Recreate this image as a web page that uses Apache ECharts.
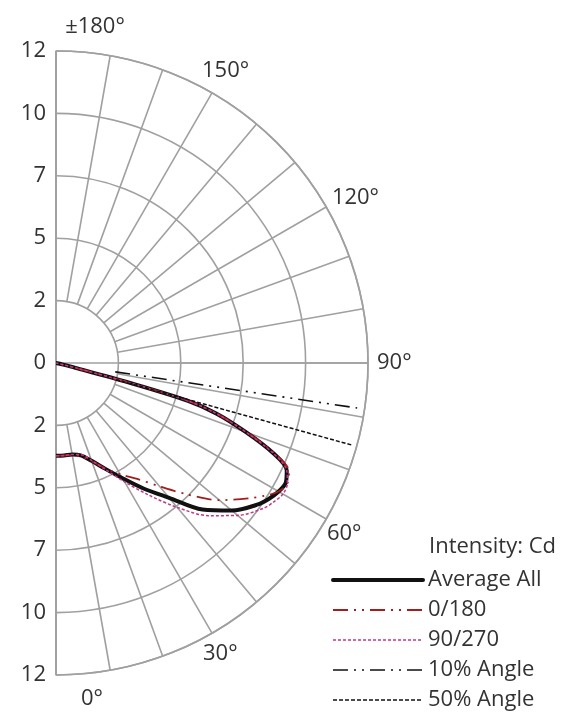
<!DOCTYPE html>
<html><head><meta charset="utf-8">
<script src="https://cdn.jsdelivr.net/npm/echarts@6/dist/echarts.min.js"></script>
<style>html,body{margin:0;padding:0;background:#fff}#c{width:563px;height:712px}</style>
</head><body><div id="c"></div>
<script>
// ---- data ----
const angleGrid   = [0, 5, 10, 15, 20, 25, 30, 35, 40, 45, 50, 55, 57.5, 60, 62.5, 65, 67.5, 70, 72.5, 74, 75, 76, 78, 80, 90];
const averageAll  = [3.72, 3.72, 3.72, 3.83, 4.17, 4.68, 5.33, 6.15, 7.05, 8.3, 9.2, 9.88, 10.12, 10.3, 10.38, 10.2, 9.4, 8.1, 6.75, 5.5, 3.0, 0.8, 0.15, 0.05, 0];
const plane0180   = [3.72, 3.72, 3.75, 3.88, 4.2, 4.65, 5.15, 5.67, 6.45, 7.45, 8.55, 9.45, 9.9, 10.3, 10.45, 10.3, 9.5, 8.15, 6.75, 5.5, 3.0, 0.8, 0.15, 0.05, 0];
const plane90270  = [3.72, 3.72, 3.72, 3.8, 4.15, 4.72, 5.5, 6.45, 7.55, 8.65, 9.5, 10.15, 10.35, 10.5, 10.45, 10.2, 9.4, 8.1, 6.75, 5.5, 3.0, 0.8, 0.15, 0.05, 0];
const angle10Pct  = [81.5, 81.5];
const radius10Pct = [2.4, 12.2];
const angle50Pct  = [74.5, 74.5];
const radius50Pct = [2.5, 12.3];
const angleTickValues  = [0, 30, 60, 90, 120, 150, 180];
const angleTickLabels  = ['0°', '30°', '60°', '90°', '120°', '150°', '±180°'];
const radialTickValues = [0, 2.5, 5, 7.5, 10, 12.5];
const radialTickLabels = ['0', '2', '5', '7', '10', '12'];
const seriesNames = ['Average All', '0/180', '90/270', '10% Angle', '50% Angle'];
const legendTitle = 'Intensity: Cd';

// ---- build ----
const pairs = (vals, angs) => vals.map((v, i) => [v, angs[i]]);
const FONT = '"Open Sans", sans-serif';
const GRID = '#a0a0a0';
const TXT = '#333';
const C = [56, 363];
const R = 312;

const radialFmt = v => {
  const i = radialTickValues.findIndex(t => Math.abs(t - v) < 1e-6);
  return i >= 0 ? radialTickLabels[i] : '';
};
const angleFmt = v => {
  const i = angleTickValues.indexOf(v);
  return i >= 0 ? '{a' + v + '|' + angleTickLabels[i] + '}' : '';
};
const rs = p => ({ padding: p, fontSize: 22, fontFamily: FONT, color: TXT });

const chart = echarts.init(document.getElementById('c'), null, { renderer: 'canvas' });
chart.setOption({
  animation: false,
  backgroundColor: '#fff',
  textStyle: { fontFamily: FONT },
  title: {
    text: legendTitle, left: 429, top: 536, padding: 0,
    textStyle: { fontSize: 22, fontWeight: 'normal', color: TXT, fontFamily: FONT }
  },
  legend: {
    orient: 'vertical', left: 331, top: 569, padding: 0,
    itemWidth: 90, itemHeight: 14, itemGap: 8,
    data: seriesNames,
    itemStyle: { opacity: 0 },
    lineStyle: { width: 'inherit' },
    textStyle: { fontSize: 22, color: TXT, fontFamily: FONT }
  },
  polar: [
    { center: C, radius: [0, R] },
    { center: C, radius: [R * 0.2, R] },
    { center: C, radius: [0, R] }
  ],
  angleAxis: [
    {
      polarIndex: 0, type: 'value', min: 0, max: 180, interval: 30,
      startAngle: -90, endAngle: 90, clockwise: false,
      axisLine: { show: true, lineStyle: { color: GRID, width: 1.6 } },
      axisTick: { show: false }, splitLine: { show: false },
      axisLabel: {
        show: true, margin: -20, formatter: angleFmt, color: TXT, fontSize: 22,
        rich: {
          a0: rs([33, 0, 0, 72]), a30: rs([27, 0, 0, 1]), a60: rs([14, 0, 0, 18]),
          a90: rs([0, 0, 0, 29]), a120: rs([0, 0, 8, 23]), a150: rs([0, 0, 28, 0]),
          a180: rs([0, 0, 33, 78])
        }
      }
    },
    {
      polarIndex: 1, type: 'value', min: 0, max: 180, interval: 10,
      startAngle: -90, endAngle: 90, clockwise: false,
      axisLine: { show: false }, axisTick: { show: false }, axisLabel: { show: false },
      splitLine: { show: true, lineStyle: { color: GRID, width: 1.6 } }
    },
    {
      polarIndex: 2, type: 'value', min: 0, max: 180, interval: 90,
      startAngle: 90, endAngle: -90, clockwise: true,
      axisLine: { show: false }, axisTick: { show: false }, axisLabel: { show: false },
      splitLine: { show: true, lineStyle: { color: GRID, width: 1.6 } }
    }
  ],
  radiusAxis: [
    {
      polarIndex: 0, type: 'value', min: 0, max: 12.5, interval: 2.5,
      axisLine: { show: true, lineStyle: { color: GRID, width: 1.6 } },
      axisTick: { show: false },
      axisLabel: { show: true, inside: true, margin: -10, align: 'right', formatter: radialFmt, color: TXT, fontSize: 22 },
      splitLine: { show: true, lineStyle: { color: GRID, width: 1.6 } }
    },
    {
      polarIndex: 1, type: 'value', min: 0, max: 12.5, show: false,
      axisLine: { show: false }, axisLabel: { show: false }, splitLine: { show: false }, axisTick: { show: false }
    },
    {
      polarIndex: 2, type: 'value', min: 0, max: 12.5, interval: 2.5,
      axisLine: { show: true, lineStyle: { color: GRID, width: 1.6 } },
      axisTick: { show: false },
      axisLabel: { show: true, showMinLabel: false, margin: 10, formatter: radialFmt, color: TXT, fontSize: 22 },
      splitLine: { show: false }
    }
  ],
  series: [
    {
      name: seriesNames[0], type: 'line', coordinateSystem: 'polar', polarIndex: 0,
      data: pairs(averageAll, angleGrid), symbol: 'none', smooth: 0.3, clip: false,
      color: '#111', lineStyle: { color: '#111', width: 4, cap: 'round', join: 'round' }, z: 3
    },
    {
      name: seriesNames[1], type: 'line', coordinateSystem: 'polar', polarIndex: 0,
      data: pairs(plane0180, angleGrid), symbol: 'none', smooth: 0.3, clip: false,
      color: '#a31d1d', lineStyle: { color: '#a31d1d', width: 1.8, type: [15, 6, 2, 6, 2, 6] }, z: 4
    },
    {
      name: seriesNames[2], type: 'line', coordinateSystem: 'polar', polarIndex: 0,
      data: pairs(plane90270, angleGrid), symbol: 'none', smooth: 0.3, clip: false,
      color: '#c4368a', lineStyle: { color: '#c4368a', width: 1.5, type: [3, 2] }, z: 4
    },
    {
      name: seriesNames[3], type: 'line', coordinateSystem: 'polar', polarIndex: 0,
      data: pairs(radius10Pct, angle10Pct), symbol: 'none', clip: false,
      color: '#111', lineStyle: { color: '#111', width: 1.6, type: [15, 6, 2, 6, 2, 6] }, z: 4
    },
    {
      name: seriesNames[4], type: 'line', coordinateSystem: 'polar', polarIndex: 0,
      data: pairs(radius50Pct, angle50Pct), symbol: 'none', clip: false,
      color: '#111', lineStyle: { color: '#111', width: 1.5, type: [4, 2] }, z: 4
    }
  ]
});
</script>
</body></html>
